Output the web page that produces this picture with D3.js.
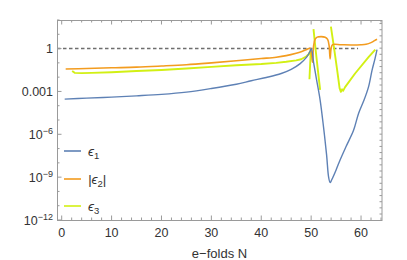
<!DOCTYPE html>
<html>
<head>
<meta charset="utf-8">
<script src="https://cdn.jsdelivr.net/npm/d3@7"></script>
<style>
  body { margin: 0; background: #fff; }
  text { font-family: "Liberation Sans", Arial, sans-serif; }
</style>
</head>
<body>
<div id="chart"></div>
<script>
// values (e-folds N, value)
var eps1N = [0.6, 5, 10, 15, 20, 25, 30, 35, 38, 41, 44, 46, 47.8, 49.1, 49.7, 50.05,
             50.5, 51.1, 51.8, 52.5, 53.1, 53.5, 53.8, 54.1, 55, 55.8, 57, 58.5, 59.5, 60.6, 61.5, 62.2, 62.8, 63.2];
var eps1V = [2.9e-4, 3.4e-4, 4.0e-4, 4.9e-4, 6.2e-4, 8.9e-4, 1.6e-3, 3.2e-3, 5.6e-3, 9.5e-3, 1.8e-2, 3.5e-2, 8.9e-2, 0.25, 0.56, 1.0,
             0.1, 6.2e-3, 2.5e-4, 2.8e-6, 3.5e-8, 1.0e-9, 4.1e-10, 6.3e-10, 3.2e-9, 1.6e-8, 1.4e-7, 1.9e-6, 2.9e-5, 2.5e-4, 2.1e-3, 3.0e-2, 0.2, 0.85];

var eps2N = [0.8, 5, 10, 15, 20, 25, 30, 35, 40, 43, 45, 47, 48, 49, 49.8, 50.05, 50.26, 50.5, 50.8, 51.2, 52, 52.8, 53.3, 53.6,
             53.8, 54.0, 54.3, 56, 58, 60, 61, 62, 62.7, 63.2];
var eps2V = [0.037, 0.040, 0.045, 0.050, 0.060, 0.074, 0.10, 0.14, 0.20, 0.25, 0.32, 0.47, 0.60, 0.83, 1.05, 0.5, 0.11, 1.6, 4.5, 6.3, 6.9, 6.3, 4.4, 1.6,
             0.19, 1.0, 1.9, 1.85, 1.8, 1.85, 2.0, 2.6, 3.6, 4.5];

// null breaks the line where eps3 changes sign
var eps3N = [2.1, 2.6, 4, 6, 10, 15, 20, 25, 30, 35, 40, 43, 45, 47, 48, 49, 49.5, 49.93, 49.66,
             50.2, 50.47, 50.94, 51.46, 51.8,
             52.5, 53.96, 54.5, 55.16, 55.7, 55.96, 56.2, 56.4, 56.8, 58.8, 61.5, 62.85];
var eps3V = [0.027, 0.020, 0.019, 0.020, 0.022, 0.027, 0.032, 0.040, 0.052, 0.068, 0.083, 0.10, 0.12, 0.15, 0.18, 0.28, 0.40, 0.76, 7.1e-3,
             null, 23, 0.60, 0.014, 1.3e-3,
             null, 34, 1.8, 0.042, 1.7e-3, 9.3e-4, 1.4e-3, 1.1e-3, 2.0e-3, 0.018, 0.25, 0.85];

var xTickVals = [0, 10, 20, 30, 40, 50, 60];
var yTickVals = [1, 1e-3, 1e-6, 1e-9, 1e-12];
var yTickText = ["1", "0.001", "10|−6", "10|−9", "10|−12"];
var legendNames = [["ϵ", "1", ""], ["|ϵ", "2", "|"], ["ϵ", "3", ""]];
var colors = ["#5e81b5", "#f39c1f", "#d2f014"];

var width = 407, height = 260;
var margin = {top: 20, right: 25, bottom: 40, left: 57};

var svg = d3.select("#chart")
  .append("svg")
    .attr("width", width)
    .attr("height", height);

var x = d3.scaleLinear()
    .domain([-0.94, 64.2])
    .range([margin.left, width - margin.right]);

var y = d3.scaleLog()
    .domain([1e-12, 1e2])
    .range([height - margin.bottom, margin.top]);

svg.append("clipPath").attr("id", "clip")
  .append("rect")
    .attr("x", margin.left).attr("y", margin.top)
    .attr("width", width - margin.left - margin.right)
    .attr("height", height - margin.top - margin.bottom);

var plot = svg.append("g").attr("clip-path", "url(#clip)");

// dashed line at 1
plot.append("line")
    .attr("x1", x(-0.94)).attr("x2", x(59.4))
    .attr("y1", y(1)).attr("y2", y(1))
    .attr("stroke", "#6e6e6e")
    .attr("stroke-width", 1.4)
    .attr("stroke-dasharray", "3.5,2.5");

function pairs(ns, vs) {
  return ns.map(function(n, i) { return {n: n, v: vs[i]}; });
}

var smooth = d3.line()
    .defined(d => d.v != null)
    .x(d => x(d.n))
    .y(d => y(d.v))
    .curve(d3.curveCatmullRom.alpha(0.5));

var straight = d3.line()
    .defined(d => d.v != null)
    .x(d => x(d.n))
    .y(d => y(d.v));

plot.append("path")
    .attr("d", straight(pairs(eps3N, eps3V)))
    .attr("fill", "none")
    .attr("stroke", colors[2])
    .attr("stroke-width", 1.9)
    .attr("stroke-linejoin", "round");

plot.append("path")
    .attr("d", smooth(pairs(eps2N, eps2V)))
    .attr("fill", "none")
    .attr("stroke", colors[1])
    .attr("stroke-width", 1.6);

plot.append("path")
    .attr("d", smooth(pairs(eps1N, eps1V)))
    .attr("fill", "none")
    .attr("stroke", colors[0])
    .attr("stroke-width", 1.4);

// frame and ticks
var frameColor = "#9a9a9a";
var x0 = margin.left, x1 = width - margin.right;
var y0 = height - margin.bottom, y1 = margin.top;

var ticks = svg.append("g").attr("stroke", frameColor).attr("stroke-width", 1);

d3.range(0, 65, 2).forEach(function(n) {
  var len = n % 10 === 0 ? 4.5 : 2.5;
  ticks.append("line").attr("x1", x(n)).attr("x2", x(n)).attr("y1", y0).attr("y2", y0 - len);
  ticks.append("line").attr("x1", x(n)).attr("x2", x(n)).attr("y1", y1).attr("y2", y1 + len);
});

d3.range(-12, 3).forEach(function(e) {
  var len = e % 3 === 0 ? 4.5 : 2.5;
  ticks.append("line").attr("x1", x0).attr("x2", x0 + len).attr("y1", y(Math.pow(10, e))).attr("y2", y(Math.pow(10, e)));
});

d3.range(-9 - 0.43 * 6, 2, 0.43).forEach(function(e) {
  ticks.append("line").attr("x1", x1).attr("x2", x1 - 2.5).attr("y1", y(Math.pow(10, e))).attr("y2", y(Math.pow(10, e)));
});

svg.append("rect")
    .attr("x", x0 + 0.5).attr("y", y1 + 0.5)
    .attr("width", x1 - x0 - 0.5).attr("height", y0 - y1)
    .attr("fill", "none")
    .attr("stroke", frameColor);

// tick labels
svg.append("g").selectAll("text")
  .data(xTickVals)
  .join("text")
    .attr("x", d => x(d))
    .attr("y", 237)
    .attr("text-anchor", "middle")
    .attr("font-size", 12.5)
    .attr("fill", "#333")
    .text(d => d);

var yl = svg.append("g").selectAll("text")
  .data(yTickVals)
  .join("text")
    .attr("x", 53)
    .attr("y", d => y(d) + 4.5)
    .attr("text-anchor", "end")
    .attr("font-size", 12.5)
    .attr("fill", "#333");

yl.each(function(d, i) {
  var parts = yTickText[i].split("|");
  var t = d3.select(this);
  t.append("tspan").text(parts[0]);
  if (parts.length > 1) {
    t.append("tspan").attr("dy", -5).attr("font-size", 9).text(parts[1]);
  }
});

svg.append("text")
    .attr("x", (x0 + x1) / 2)
    .attr("y", 258)
    .attr("text-anchor", "middle")
    .attr("font-size", 13)
    .attr("fill", "#333")
    .text("e−folds N");

// legend
var legendY = [151, 179, 206];
var lg = svg.append("g");
legendNames.forEach(function(nm, i) {
  lg.append("line")
    .attr("x1", 64).attr("x2", 81)
    .attr("y1", legendY[i]).attr("y2", legendY[i])
    .attr("stroke", colors[i]).attr("stroke-width", 1.6);
  var t = lg.append("text")
    .attr("x", 88).attr("y", legendY[i] + 4.5)
    .attr("font-size", 13.5)
    .attr("fill", "#333");
  t.append("tspan").attr("font-style", "italic").text(nm[0]);
  t.append("tspan").attr("dy", 3.5).attr("font-size", 9.5).text(nm[1]);
  t.append("tspan").attr("dy", -3.5).text(nm[2]);
});
</script>
</body>
</html>
